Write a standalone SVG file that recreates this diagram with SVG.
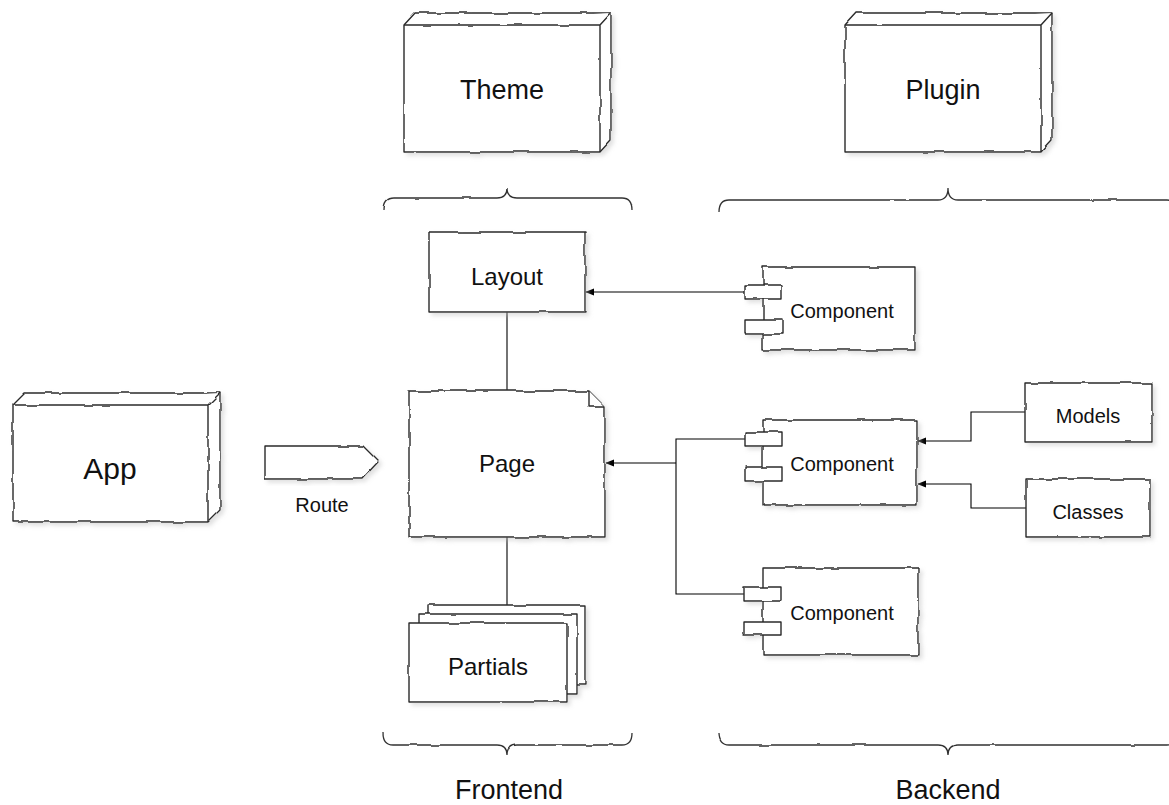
<svg xmlns="http://www.w3.org/2000/svg" width="1169" height="805" viewBox="0 0 1169 805">
  <style>
    .shape { fill: #ffffff; stroke: #2a2a2a; stroke-width: 1.4; stroke-linejoin: round; }
    .brace { fill: none; stroke: #333333; stroke-width: 1.3; }
    .edge { fill: none; stroke: #000000; stroke-width: 1.1; }
    text { font-family: "Liberation Sans", Arial, Helvetica, sans-serif; fill: #111111; text-anchor: middle; dominant-baseline: central; }
    .big { font-size: 30px; }
    .title { font-size: 27px; }
    .mid { font-size: 24px; }
    .small { font-size: 20px; }
  </style>
  <defs>
    <!-- hand-drawn wobble plus soft grey drop shadow -->
    <filter id="sketch" x="-10%" y="-10%" width="125%" height="130%">
      <feTurbulence type="fractalNoise" baseFrequency="0.045" numOctaves="2" seed="7" result="noise"/>
      <feDisplacementMap in="SourceGraphic" in2="noise" scale="3.2" xChannelSelector="R" yChannelSelector="G" result="wobble"/>
      <feOffset in="wobble" dx="3" dy="3" result="off"/>
      <feGaussianBlur in="off" stdDeviation="2" result="blur"/>
      <feColorMatrix in="blur" type="matrix" values="0 0 0 0 0.5  0 0 0 0 0.5  0 0 0 0 0.5  0 0 0 0.45 0" result="shadow"/>
      <feMerge>
        <feMergeNode in="shadow"/>
        <feMergeNode in="wobble"/>
      </feMerge>
    </filter>
    <filter id="wave" x="-5%" y="-50%" width="110%" height="200%">
      <feTurbulence type="fractalNoise" baseFrequency="0.04" numOctaves="2" seed="3" result="noise"/>
      <feDisplacementMap in="SourceGraphic" in2="noise" scale="2.5" xChannelSelector="R" yChannelSelector="G"/>
    </filter>
    <marker id="arrow" viewBox="0 0 10 10" refX="9" refY="5" markerWidth="9" markerHeight="9" markerUnits="userSpaceOnUse" orient="auto">
      <path d="M0,1 L10,5 L0,9 z" fill="#000000"/>
    </marker>
  </defs>

  <!-- grouping braces -->
  <g id="braces" filter="url(#wave)">
    <path class="brace" d="M383,210 Q383,198 393,198 L497,198 Q507,198 507,188 Q507,198 517,198 L622,198 Q632,198 632,210"/>
    <path class="brace" d="M719,212 Q719,200 729,200 L938,200 Q948,200 948,188 Q948,200 958,200 L1167,200 Q1177,200 1177,212"/>
    <path class="brace" d="M383,733 Q383,745 393,745 L497,745 Q507,745 507,755 Q507,745 517,745 L622,745 Q632,745 632,733"/>
    <path class="brace" d="M719,733 Q719,745 729,745 L938,745 Q948,745 948,755 Q948,745 958,745 L1167,745 Q1177,745 1177,733"/>
  </g>

  <!-- connectors -->
  <g id="connectors">
    <path class="edge" d="M507,312 L507,391"/>
    <path class="edge" d="M507,537 L507,605"/>
    <path class="edge" d="M745,292 L586,292" marker-end="url(#arrow)"/>
    <path class="edge" d="M745,439 L676,439 L676,594 L745,594"/>
    <path class="edge" d="M676,463 L606,463" marker-end="url(#arrow)"/>
    <path class="edge" d="M1025,412 L971,412 L971,441 L918,441" marker-end="url(#arrow)"/>
    <path class="edge" d="M1026,508 L971,508 L971,484 L918,484" marker-end="url(#arrow)"/>
  </g>

  <!-- Theme -->
  <g id="theme">
    <g filter="url(#sketch)">
      <path class="shape" d="M404,25 L415,13 L611,13 L611,140 L600,152 L404,152 Z"/>
      <path class="shape" d="M404,25 L600,25 L611,13 M600,25 L600,152"/>
    </g>
    <text class="title" x="502" y="90">Theme</text>
  </g>

  <!-- Plugin -->
  <g id="plugin">
    <g filter="url(#sketch)">
      <path class="shape" d="M845,25 L856,13 L1052,13 L1052,140 L1041,152 L845,152 Z"/>
      <path class="shape" d="M845,25 L1041,25 L1052,13 M1041,25 L1041,152"/>
    </g>
    <text class="title" x="943" y="90">Plugin</text>
  </g>

  <!-- App -->
  <g id="app">
    <g filter="url(#sketch)">
      <path class="shape" d="M13,405 L25,393 L220,393 L220,510 L208,522 L13,522 Z"/>
      <path class="shape" d="M13,405 L208,405 L220,393 M208,405 L208,522"/>
    </g>
    <text class="big" x="110" y="468">App</text>
  </g>

  <!-- Route -->
  <g id="route">
    <path class="shape" filter="url(#sketch)" d="M265,446 L362,446 L378,462 L362,479 L265,479 Z"/>
    <text class="small" x="322" y="505">Route</text>
  </g>

  <!-- Layout -->
  <g id="layout">
    <rect class="shape" filter="url(#sketch)" x="429" y="232" width="156" height="80"/>
    <text class="mid" x="507" y="276">Layout</text>
  </g>

  <!-- Page -->
  <g id="page">
    <g filter="url(#sketch)">
      <path class="shape" d="M409,391 L589,391 L605,407 L605,537 L409,537 Z"/>
      <path class="shape" d="M589,391 L589,407 L605,407"/>
    </g>
    <text class="mid" x="507" y="463">Page</text>
  </g>

  <!-- Partials -->
  <g id="partials">
    <g filter="url(#sketch)">
      <rect class="shape" x="428" y="605" width="157" height="80"/>
      <rect class="shape" x="419" y="614" width="158" height="79"/>
      <rect class="shape" x="409" y="623" width="158" height="79"/>
    </g>
    <text class="mid" x="488" y="666">Partials</text>
  </g>

  <!-- Component (top) -->
  <g id="component-1">
    <g filter="url(#sketch)">
      <rect class="shape" x="763" y="267" width="152" height="83"/>
      <rect class="shape" x="745" y="285" width="37" height="14"/>
      <rect class="shape" x="745" y="320" width="37" height="14"/>
    </g>
    <text class="small" x="842" y="311">Component</text>
  </g>

  <!-- Component (middle) -->
  <g id="component-2">
    <g filter="url(#sketch)">
      <rect class="shape" x="763" y="420" width="154" height="85"/>
      <rect class="shape" x="745" y="432" width="37" height="14"/>
      <rect class="shape" x="745" y="467" width="37" height="14"/>
    </g>
    <text class="small" x="842" y="464">Component</text>
  </g>

  <!-- Component (bottom) -->
  <g id="component-3">
    <g filter="url(#sketch)">
      <rect class="shape" x="763" y="568" width="155" height="87"/>
      <rect class="shape" x="744" y="587" width="37" height="14"/>
      <rect class="shape" x="744" y="622" width="37" height="13"/>
    </g>
    <text class="small" x="842" y="613">Component</text>
  </g>

  <!-- Models -->
  <g id="models">
    <rect class="shape" filter="url(#sketch)" x="1025" y="383" width="127" height="59"/>
    <text class="small" x="1088" y="416">Models</text>
  </g>

  <!-- Classes -->
  <g id="classes">
    <rect class="shape" filter="url(#sketch)" x="1026" y="479" width="124" height="58"/>
    <text class="small" x="1088" y="512">Classes</text>
  </g>

  <!-- group labels -->
  <g id="labels">
    <text class="title" x="509" y="790">Frontend</text>
    <text class="title" x="948" y="790">Backend</text>
  </g>
</svg>
